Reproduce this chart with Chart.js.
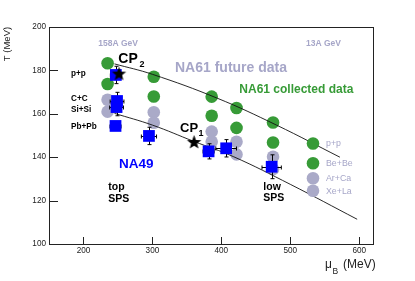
<!DOCTYPE html>
<html>
<head>
<meta charset="utf-8">
<script src="https://cdn.jsdelivr.net/npm/chart.js@4.4.0/dist/chart.umd.min.js"></script>
<style>
  html, body { margin: 0; padding: 0; background: #ffffff; }
  #wrap { width: 415px; height: 281px; }
</style>
</head>
<body>
<div id="wrap"><canvas id="grafico" width="415" height="281"></canvas></div>
<script>
// Ejes
const xTicks = [200, 300, 400, 500, 600];
const yTicks = [100, 120, 140, 160, 180, 200];

// NA61 datos recogidos (verde): p+p y Be+Be por energía
const greenMu = [235, 235, 302, 302, 386, 386, 422, 422, 475, 475];
const greenT = [183.3, 173.7, 177.1, 168.0, 167.9, 159.1, 162.7, 153.5, 156.0, 146.8];

// NA61 datos futuros (gris): Ar+Ca y Xe+La
const grayMu = [235, 235, 302, 302, 386, 386, 422, 422, 475, 475];
const grayT = [166.5, 161.0, 160.7, 155.9, 151.8, 147.1, 147.1, 141.3, 140.2, 134.5];

// NA49 (azul) con errores
const blueMu = [247, 248.7, 248, 246.5, 295, 381.5, 407, 473];
const blueT = [177.9, 165.9, 163.1, 154.4, 149.8, 142.7, 144.1, 135.6];
const blueMuErr = [8, 10, 10, 8, 11, 8, 15, 14];
const blueTErr = [4, 4, 4, 2, 4, 3.5, 4, 5.5];

// Puntos críticos
const cpMu = [251.6, 360.5];
const cpT = [178.3, 146.8];

// Curvas de freeze-out
const upperMu = [245, 300, 394, 480, 572];
const upperT = [183, 178.2, 167.2, 154.8, 140];
const lowerMu = [245, 300, 360, 418, 500, 597];
const lowerT = [160.2, 154.8, 147.3, 140.2, 127.5, 111.4];

const verde = 'rgb(55,155,55)';
const gris = 'rgb(170,170,200)';
const azul = '#0000ff';
const lavanda = 'rgb(166,166,200)';
const FONT = '"Liberation Sans", Arial, sans-serif';

function puntos(xs, ys) {
  return xs.map((x, i) => ({ x: x, y: ys[i] }));
}

// Estrella rellena de 5 puntas
function crearEstrella(r) {
  const c = document.createElement('canvas');
  c.width = c.height = 2 * r + 2;
  const g = c.getContext('2d');
  g.beginPath();
  for (let i = 0; i < 10; i++) {
    const rad = i % 2 ? r * 0.42 : r;
    const a = -Math.PI / 2 + i * Math.PI / 5;
    const px = r + 1 + rad * Math.cos(a);
    const py = r + 1 + rad * Math.sin(a);
    if (i === 0) g.moveTo(px, py); else g.lineTo(px, py);
  }
  g.closePath();
  g.fillStyle = '#000';
  g.fill();
  return c;
}

// Barras de error para NA49
const erroresPlugin = {
  id: 'errores',
  beforeDatasetDraw(chart, args) {
    if (args.index !== 3) return;
    const xs = chart.scales.x, ys = chart.scales.y;
    const ctx = chart.ctx;
    ctx.save();
    ctx.strokeStyle = '#000';
    ctx.lineWidth = 1;
    blueMu.forEach((m, i) => {
      const px = Math.round(xs.getPixelForValue(m)) + 0.5;
      const py = Math.round(ys.getPixelForValue(blueT[i])) + 0.5;
      const x1 = xs.getPixelForValue(m - blueMuErr[i]);
      const x2 = xs.getPixelForValue(m + blueMuErr[i]);
      const y1 = ys.getPixelForValue(blueT[i] + blueTErr[i]);
      const y2 = ys.getPixelForValue(blueT[i] - blueTErr[i]);
      ctx.beginPath();
      ctx.moveTo(x1, py); ctx.lineTo(x2, py);
      ctx.moveTo(px, y1); ctx.lineTo(px, y2);
      ctx.moveTo(x1, py - 2); ctx.lineTo(x1, py + 2);
      ctx.moveTo(x2, py - 2); ctx.lineTo(x2, py + 2);
      ctx.moveTo(px - 2, y1); ctx.lineTo(px + 2, y1);
      ctx.moveTo(px - 2, y2); ctx.lineTo(px + 2, y2);
      ctx.stroke();
    });
    ctx.restore();
  }
};

// Marco, ticks hacia dentro, etiquetas y textos
const marcoPlugin = {
  id: 'marco',
  afterDraw(chart) {
    const ctx = chart.ctx;
    const a = chart.chartArea;
    const xs = chart.scales.x, ys = chart.scales.y;
    ctx.save();

    // marco
    ctx.strokeStyle = '#222';
    ctx.lineWidth = 1;
    ctx.strokeRect(Math.round(a.left) + 0.5, Math.round(a.top) + 0.5,
      Math.round(a.right - a.left), Math.round(a.bottom - a.top));

    // ticks
    ctx.beginPath();
    yTicks.forEach(v => {
      const py = Math.round(ys.getPixelForValue(v)) + 0.5;
      ctx.moveTo(a.left, py); ctx.lineTo(a.left + 9, py);
    });
    xTicks.forEach(v => {
      const px = Math.round(xs.getPixelForValue(v)) + 0.5;
      ctx.moveTo(px, a.bottom); ctx.lineTo(px, a.bottom - 7);
    });
    ctx.stroke();

    // etiquetas de ticks
    ctx.fillStyle = '#222';
    ctx.font = '8.2px ' + FONT;
    ctx.textAlign = 'right';
    ctx.textBaseline = 'middle';
    yTicks.forEach(v => ctx.fillText(String(v), a.left - 3, ys.getPixelForValue(v)));
    ctx.textAlign = 'center';
    xTicks.forEach(v => ctx.fillText(String(v), xs.getPixelForValue(v), a.bottom + 7));

    // títulos de ejes
    ctx.textBaseline = 'middle';
    ctx.font = '9.5px ' + FONT;
    ctx.save();
    ctx.translate(7.5, 44);
    ctx.rotate(-Math.PI / 2);
    ctx.fillText('T (MeV)', 0, 0);
    ctx.restore();
    ctx.textAlign = 'left';
    ctx.textBaseline = 'alphabetic';
    ctx.font = '12px ' + FONT;
    ctx.fillText('\u03bc', 325, 268);
    ctx.font = '8.5px ' + FONT;
    ctx.fillText('B', 332.5, 273.5);
    ctx.font = '12px ' + FONT;
    ctx.fillText('(MeV)', 343, 268);

    // energías
    ctx.fillStyle = lavanda;
    ctx.font = 'bold 8.5px ' + FONT;
    ctx.fillText('158A GeV', 98.3, 45.5);
    ctx.fillText('13A GeV', 306, 45.5);

    // NA61
    ctx.font = 'bold 14px ' + FONT;
    ctx.fillText('NA61 future data', 175, 71.5);
    ctx.fillStyle = verde;
    ctx.font = 'bold 12px ' + FONT;
    ctx.fillText('NA61 collected data', 239.3, 93);

    // NA49
    ctx.fillStyle = azul;
    ctx.font = 'bold 13.5px ' + FONT;
    ctx.fillText('NA49', 119, 168.3);

    // sistemas NA49
    ctx.fillStyle = '#000';
    ctx.font = 'bold 8.2px ' + FONT;
    ctx.textBaseline = 'middle';
    ctx.fillText('p+p', 71, 73.3);
    ctx.fillText('C+C', 71, 99);
    ctx.fillText('Si+Si', 71, 109.5);
    ctx.fillText('Pb+Pb', 71, 126.5);

    ctx.textBaseline = 'alphabetic';
    ctx.font = 'bold 10.5px ' + FONT;
    ctx.fillText('top', 108.3, 189.5);
    ctx.fillText('SPS', 108.3, 201.5);
    ctx.fillText('low', 263.3, 189.5);
    ctx.fillText('SPS', 263.3, 201);

    // puntos críticos
    ctx.font = 'bold 14px ' + FONT;
    ctx.fillText('CP', 118.3, 62.5);
    ctx.font = 'bold 9px ' + FONT;
    ctx.fillText('2', 139.5, 66.5);
    ctx.font = 'bold 13px ' + FONT;
    ctx.fillText('CP', 180, 131.7);
    ctx.font = 'bold 9px ' + FONT;
    ctx.fillText('1', 198.5, 136);

    // leyenda de sistemas NA61
    const leyenda = [
      ['p+p', verde, 143.5],
      ['Be+Be', verde, 163.3],
      ['Ar+Ca', gris, 178.3],
      ['Xe+La', gris, 190.8]
    ];
    ctx.textBaseline = 'middle';
    ctx.font = '8.8px ' + FONT;
    leyenda.forEach(([txt, col, y]) => {
      ctx.fillStyle = col;
      ctx.beginPath();
      ctx.arc(313, y, 6.3, 0, Math.PI * 2);
      ctx.fill();
      ctx.fillStyle = lavanda;
      ctx.fillText(txt, 326, y + 0.5);
    });

    ctx.restore();
  }
};

const estrella = crearEstrella(7.5);

new Chart(document.getElementById('grafico'), {
  type: 'scatter',
  data: {
    datasets: [
      {
        label: 'NA61 collected',
        data: puntos(greenMu, greenT),
        backgroundColor: verde,
        borderWidth: 0,
        pointRadius: 6.3,
        order: 6
      },
      {
        label: 'NA61 future',
        data: puntos(grayMu, grayT),
        backgroundColor: gris,
        borderWidth: 0,
        pointRadius: 6.3,
        order: 5
      },
      {
        type: 'line',
        label: 'upper',
        data: puntos(upperMu, upperT),
        borderColor: '#111',
        borderWidth: 0.9,
        pointRadius: 0,
        tension: 0.4,
        fill: false,
        order: 4
      },
      {
        label: 'NA49',
        data: puntos(blueMu, blueT),
        backgroundColor: azul,
        borderWidth: 0,
        pointStyle: 'rect',
        pointRadius: 8.3,
        order: 2
      },
      {
        type: 'line',
        label: 'lower',
        data: puntos(lowerMu, lowerT),
        borderColor: '#111',
        borderWidth: 0.9,
        pointRadius: 0,
        tension: 0.4,
        fill: false,
        order: 3
      },
      {
        label: 'CP',
        data: puntos(cpMu, cpT),
        pointStyle: estrella,
        pointRadius: 8,
        order: 1
      }
    ]
  },
  options: {
    responsive: false,
    animation: false,
    devicePixelRatio: 1,
    layout: { padding: { left: 49, right: 42, top: 27, bottom: 37 } },
    plugins: {
      legend: { display: false },
      tooltip: { enabled: false }
    },
    scales: {
      x: { type: 'linear', min: 150, max: 620, display: false },
      y: { type: 'linear', min: 100, max: 200, display: false }
    },
    elements: { point: { hoverRadius: 0 } }
  },
  plugins: [erroresPlugin, marcoPlugin]
});
</script>
</body>
</html>
